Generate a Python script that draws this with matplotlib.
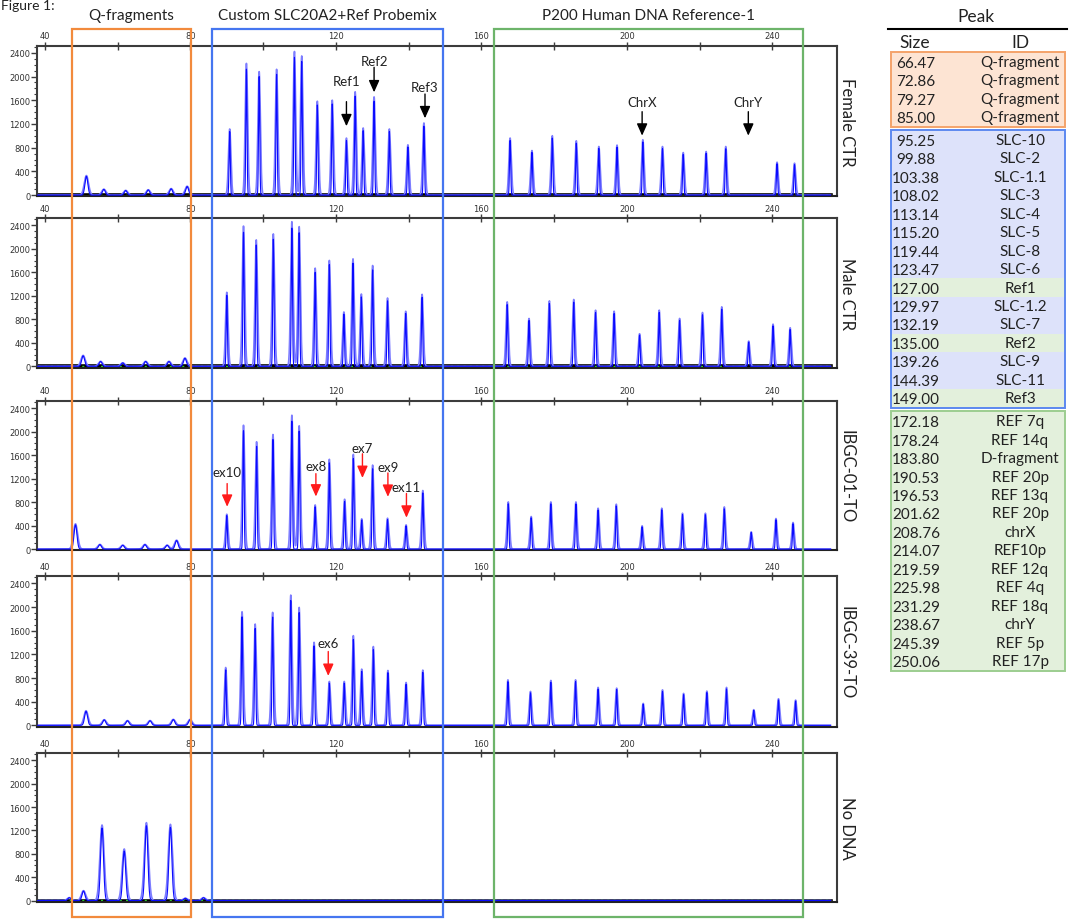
import numpy as np
import matplotlib
matplotlib.use('Agg')
import matplotlib.pyplot as plt
from matplotlib.patches import Rectangle
from matplotlib.ticker import MultipleLocator

plt.rcParams['font.family'] = ['Lato', 'DejaVu Sans']

W, H = 1069, 920

# ---- peak data (size, height) ----
female_pos = [51.4, 56.2, 62.2, 68.4, 74.7, 79.1,
              90.8, 95.4, 98.9, 103.7, 108.6, 110.6, 114.9, 119.0, 122.9, 125.3, 127.5, 130.5, 134.7, 139.8, 144.2,
              167.9, 173.9, 179.5, 186.1, 192.3, 197.3, 204.4, 209.8, 215.5, 221.8, 227.2, 241.3, 246.1]
female_h = [330, 100, 80, 90, 110, 150,
            1115, 2224, 2083, 2122, 2423, 2348, 1584, 1601, 962, 1744, 1132, 1658, 1115, 849, 1217,
            963, 752, 1002, 917, 820, 844, 934, 820, 718, 735, 820, 555, 538]

male_pos = [50.5, 55.3, 61.4, 67.7, 74.1, 78.5,
            90.0, 94.6, 98.1, 102.8, 107.9, 109.9, 114.3, 118.2, 122.2, 124.7, 127.0, 130.1, 134.2, 139.2, 143.7,
            167.1, 173.1, 178.7, 185.4, 191.4, 196.5, 203.5, 208.9, 214.5, 220.8, 226.1, 233.5, 240.2, 244.9]
male_h = [186, 85, 60, 85, 85, 142,
          1260, 2390, 2153, 2255, 2465, 2380, 1672, 1803, 925, 1830, 1231, 1718, 1163, 937, 1226,
          1098, 815, 1115, 1138, 956, 939, 555, 956, 815, 917, 1013, 430, 718, 657]

ibgc01_pos = [48.4, 55.1, 61.4, 67.5, 73.6, 76.2,
              90.0, 94.6, 98.2, 102.7, 107.9, 109.9, 114.3, 118.2, 122.4, 124.8, 127.1, 130.1, 134.2, 139.3, 143.9,
              167.4, 173.7, 179.1, 186.0, 192.1, 197.1, 204.2, 209.6, 215.3, 221.6, 226.8, 234.2, 241.0, 245.7]
ibgc01_h = [430, 80, 68, 80, 68, 152,
            594, 2110, 1828, 1952, 2280, 2100, 752, 1528, 849, 1613, 515, 1431, 526, 413, 997,
            803, 555, 803, 803, 696, 764, 396, 696, 611, 611, 718, 294, 521, 453]

ibgc39_pos = [51.3, 56.3, 62.7, 68.9, 75.3, 79.9,
              89.7, 94.2, 97.8, 102.6, 107.6, 109.9, 114.0, 118.2, 122.3, 124.8, 127.1, 130.3, 134.3, 139.3, 143.9,
              167.3, 173.5, 179.1, 185.9, 192.1, 197.2, 204.5, 209.8, 215.6, 222.0, 227.4, 234.9, 241.7, 246.4]
ibgc39_h = [246, 95, 80, 80, 100, 100,
            978, 1922, 1713, 1911, 2203, 1995, 1405, 742, 742, 1518, 950, 1332, 927, 725, 933,
            769, 573, 759, 769, 641, 629, 371, 600, 540, 579, 641, 264, 449, 427]

nodna_pos = [46.7, 50.6, 55.7, 61.8, 67.9, 74.5, 78.6, 83.6]
nodna_h = [50, 169, 1292, 882, 1333, 1304, 40, 50]

panel_names = ['Female CTR', 'Male CTR', 'IBGC-01-TO', 'IBGC-39-TO', 'No DNA']
panel_pos = [female_pos, male_pos, ibgc01_pos, ibgc39_pos, nodna_pos]
panel_h = [female_h, male_h, ibgc01_h, ibgc39_h, nodna_h]
noisy_baseline = [True, True, False, False, True]

# arrows: label, x, text y, tail y, tip y
female_arrows = [('Ref1', 122.9, 1929, 1576, 1162), ('Ref2', 130.5, 2266, 2155, 1734),
                 ('Ref3', 144.5, 1818, 1705, 1296), ('ChrX', 204.2, 1566, 1407, 1003),
                 ('ChrY', 233.4, 1566, 1407, 1003)]
ibgc01_arrows = [('ex10', 90.1, 1313, 1115, 721), ('ex8', 114.5, 1419, 1284, 895),
                 ('ex7', 127.3, 1718, 1622, 1211), ('ex9', 134.3, 1397, 1296, 890),
                 ('ex11', 139.4, 1059, 946, 535)]
ibgc39_arrows = [('ex6', 117.9, 1388, 1248, 836)]
panel_arrows = [(female_arrows, 'black'), ([], 'black'), (ibgc01_arrows, '#ff1a1a'),
                (ibgc39_arrows, '#ff1a1a'), ([], 'black')]

# peak table
peak_sizes = ['66.47', '72.86', '79.27', '85.00',
              '95.25', '99.88', '103.38', '108.02', '113.14', '115.20', '119.44', '123.47', '127.00',
              '129.97', '132.19', '135.00', '139.26', '144.39', '149.00',
              '172.18', '178.24', '183.80', '190.53', '196.53', '201.62', '208.76', '214.07', '219.59',
              '225.98', '231.29', '238.67', '245.39', '250.06']
peak_ids = ['Q-fragment', 'Q-fragment', 'Q-fragment', 'Q-fragment',
            'SLC-10', 'SLC-2', 'SLC-1.1', 'SLC-3', 'SLC-4', 'SLC-5', 'SLC-8', 'SLC-6', 'Ref1',
            'SLC-1.2', 'SLC-7', 'Ref2', 'SLC-9', 'SLC-11', 'Ref3',
            'REF 7q', 'REF 14q', 'D-fragment', 'REF 20p', 'REF 13q', 'REF 20p', 'chrX', 'REF10p', 'REF 12q',
            'REF 4q', 'REF 18q', 'chrY', 'REF 5p', 'REF 17p']
peak_groups = [0] * 4 + [1] * 15 + [2] * 14

section_titles = ['Q-fragments', 'Custom SLC20A2+Ref Probemix', 'P200 Human DNA Reference-1']

# ---- layout (pixels) ----
panel_tops = [46.7, 219.3, 402.0, 577.3, 754.3]
panel_bottoms = [197.3, 368.5, 551.3, 727.5, 902.7]
ax_left, ax_right = 37.3, 836.7

fig = plt.figure(figsize=(W / 100, H / 100), dpi=100)

xs = np.linspace(38.0, 256.0, 6000)


def trace(pos, hts, wide, narrow):
    y = np.zeros_like(xs)
    for p, h in zip(pos, hts):
        s = wide if p < 86 else narrow
        y += h * np.exp(-0.5 * ((xs - p) / s) ** 2)
    return y


for i in range(5):
    top, bot = panel_tops[i], panel_bottoms[i]
    ax = fig.add_axes([ax_left / W, 1 - bot / H, (ax_right - ax_left) / W, (bot - top) / H])
    ax.set_xlim(37.9, 257.7)
    ax.set_ylim(-20, 2520)

    if noisy_baseline[i]:
        ax.plot([38, 256], [0, 0], color='black', lw=2.6, zorder=1)
        ax.plot([38, 256], [10, 10], color='#2ecc2e', lw=1.0, dashes=(1.5, 3), zorder=1.5)

    ax.plot(xs, trace(panel_pos[i], panel_h[i], 0.58, 0.34), color='#7d7dff', lw=1.2, zorder=2)
    ax.plot(xs, trace(panel_pos[i], [h * 0.96 for h in panel_h[i]], 0.40, 0.16),
            color='#0a0aff', lw=0.8, zorder=3)

    arrows, acol = panel_arrows[i]
    for lab, x, ty, tail, tip in arrows:
        ax.annotate('', xy=(x, tip), xytext=(x, tail),
                    arrowprops=dict(arrowstyle='-|>,head_length=0.45,head_width=0.2',
                                    mutation_scale=16, color=acol, lw=1.0,
                                    shrinkA=0, shrinkB=0), zorder=5)
        ax.text(x, ty, lab, ha='center', va='center', fontsize=9.5, color='#222222', zorder=5)

    for side in ['top', 'left', 'right']:
        ax.spines[side].set_color('#3c3c3c')
        ax.spines[side].set_linewidth(1.5)
    ax.spines['bottom'].set_color('#222222')
    ax.spines['bottom'].set_linewidth(1.5)

    ax.xaxis.set_major_locator(MultipleLocator(40))
    ax.xaxis.set_minor_locator(MultipleLocator(20))
    ax.tick_params(axis='x', which='both', top=True, bottom=False, labeltop=True, labelbottom=False,
                   direction='inout', length=6, width=1.0, color='#3c3c3c', pad=1,
                   labelsize=6, labelcolor='#333333', labelfontfamily='DejaVu Sans')
    ax.set_yticks(range(0, 2401, 400))
    ax.yaxis.set_minor_locator(MultipleLocator(100))
    ax.tick_params(axis='y', which='major', direction='out', length=4, width=1.0, color='#3c3c3c',
                   pad=1, labelsize=6, labelcolor='#333333', labelfontfamily='DejaVu Sans')
    ax.tick_params(axis='y', which='minor', direction='out', length=2.5, width=0.8, color='#3c3c3c')

    fig.text(846.7 / W, 1 - (top + bot) / 2 / H, panel_names[i], rotation=270,
             ha='center', va='center', fontsize=12, color='#222222')

# ---- overlay: section boxes, titles, table ----
ov = fig.add_axes([0, 0, 1, 1])
ov.set_xlim(0, W)
ov.set_ylim(H, 0)
ov.axis('off')
ov.patch.set_alpha(0)

ov.text(1, 0.5, 'Figure 1:', ha='left', va='top', fontsize=10, color='#222222')

box_cols = ['#f28a3c', '#4576f0', '#6db46a']
box_x = [(72.3, 190.7), (212.0, 443.3), (494.0, 803.3)]
for (x0, x1), col, title in zip(box_x, box_cols, section_titles):
    ov.add_patch(Rectangle((x0, 30), x1 - x0, 888, fill=False, ec=col, lw=1.6, zorder=10))
    ov.text((x0 + x1) / 2, 16, title, ha='center', va='center', fontsize=11, color='#222222')

# table
tx0, tx1 = 891, 1065
ov.text(976, 16.5, 'Peak', ha='center', va='center', fontsize=12.5, color='#222222')
ov.plot([888, 1066.5], [30.3, 30.3], color='black', lw=1.5)
ov.text(915, 42.5, 'Size', ha='center', va='center', fontsize=12.5, color='#222222')
ov.text(1020, 42.5, 'ID', ha='center', va='center', fontsize=12.5, color='#222222')

row_h = 18.45
fills = ['#fde4d3', '#dde2fa', '#e3f0dc']
edges = ['#f4a36a', '#5c88f0', '#9ccd8f']
row_y = [62.7 + k * row_h + g * 4.5 for k, g in enumerate(peak_groups)]
for k, (sz, pid, g) in enumerate(zip(peak_sizes, peak_ids, peak_groups)):
    y = row_y[k]
    fc = fills[2] if pid.startswith('Ref') else fills[g]
    ov.add_patch(Rectangle((tx0, y - row_h / 2), tx1 - tx0, row_h, fc=fc, ec='none', zorder=1))
    ov.text(892 if len(sz) == 6 else 896.5, y + 1, sz, ha='left', va='center', fontsize=11,
            color='#222222', zorder=3)
    ov.text(1020, y, pid, ha='center', va='center', fontsize=11, color='#222222', zorder=3)
for g in range(3):
    ys = [row_y[k] for k in range(len(peak_groups)) if peak_groups[k] == g]
    ov.add_patch(Rectangle((tx0, ys[0] - 9.8), tx1 - tx0, ys[-1] - ys[0] + 19.6,
                           fill=False, ec=edges[g], lw=1.4, zorder=4))

fig.savefig('out.png', dpi=100)
